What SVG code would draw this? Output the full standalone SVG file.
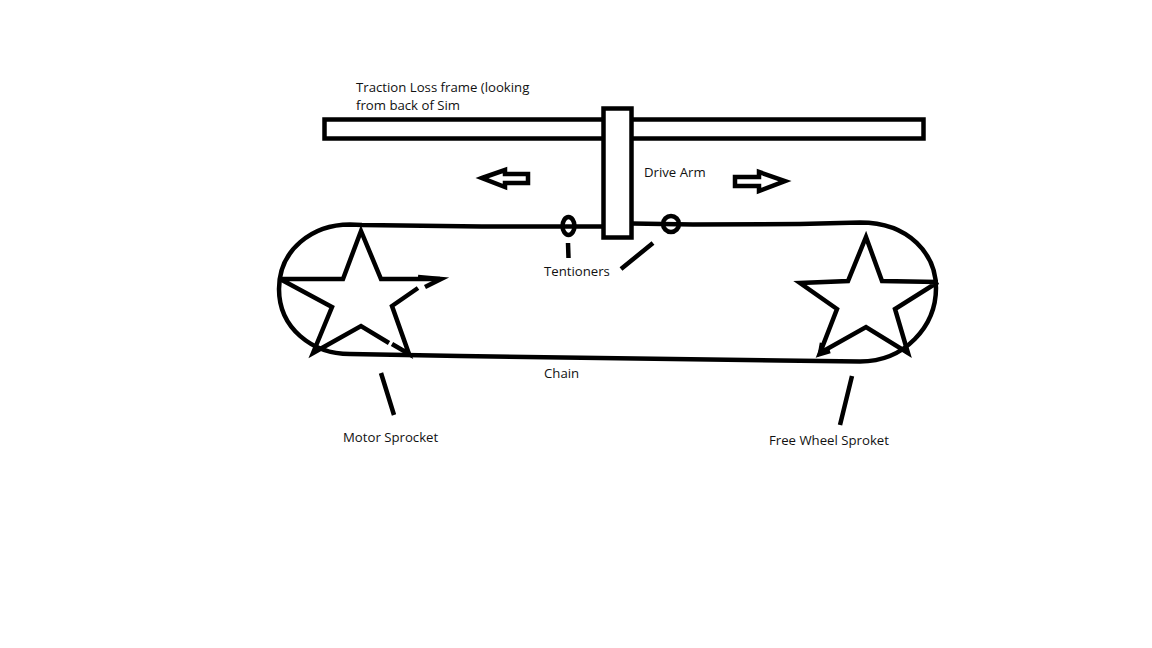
<svg xmlns="http://www.w3.org/2000/svg" width="1152" height="648" viewBox="0 0 1152 648">
<style>
.s{fill:none;stroke:#000;stroke-width:4.500;stroke-linejoin:miter;stroke-linecap:butt}
.t{font-family:"Open Sans","Noto Sans",sans-serif;font-size:13.200px;fill:#111}
</style>
<rect width="1152" height="648" fill="#fff"/>
<g id="frame"><rect class="s" x="324.500" y="119.500" width="599" height="19"/><text class="t" x="356" y="92">Traction Loss frame (looking</text><text class="t" x="356" y="110">from back of Sim</text></g>
<g id="connectors">
<path class="s" d="M603 226.500L482 226.500L362 225L350 224.500C312 224.500 279 250 279 289C279 328 312 354 350 354L460 356L780 360.500L860 361.500C905 361.500 936 326 936 288C936 255 910 222.500 860 222.500L800 224L693 224.500L632 223.500"/>
<path class="s" d="M568 243L568.500 258M621 269L653 243M381 373L394 415M852 376L840 425"/>
</g>
<g id="motor-sprocket"><path class="s" d="M440 279L381 279L361 231L343 279L280 279L332 307L313 353L361 326L389 343M392 344L409 354L392 306L418 288"/><path class="s" d="M425 287L441 279L418 277"/><text class="t" x="343" y="442">Motor Sprocket</text></g>
<g id="free-wheel-sprocket"><path class="s" d="M938 282L882 281L866 237L848 281L800 283L837 309L820 353L866 327L908 353L895 309L938 282"/><path class="s" d="M822 343L820 354L830 351"/><text class="t" x="769" y="445">Free Wheel Sproket</text></g>
<g id="drive-arm"><rect x="603.500" y="108.500" width="28" height="129" fill="#fff" stroke="#000" stroke-width="4.500"/><text class="t" x="644" y="177">Drive Arm</text></g>
<g id="tentioners"><ellipse class="s" cx="568.500" cy="226" rx="6" ry="9"/><circle class="s" cx="671" cy="224" r="8"/><text class="t" x="544" y="276">Tentioners</text></g>
<g id="arrow-left"><path class="s" d="M482 178L505 170L505 174L528 174L528 183L505 183L505 187Z"/></g>
<g id="arrow-right"><path class="s" d="M735 177L759 177L759 172L785 181L759 191L759 186L735 186Z"/></g>
<g id="chain"><text class="t" x="544" y="378">Chain</text></g>
</svg>
